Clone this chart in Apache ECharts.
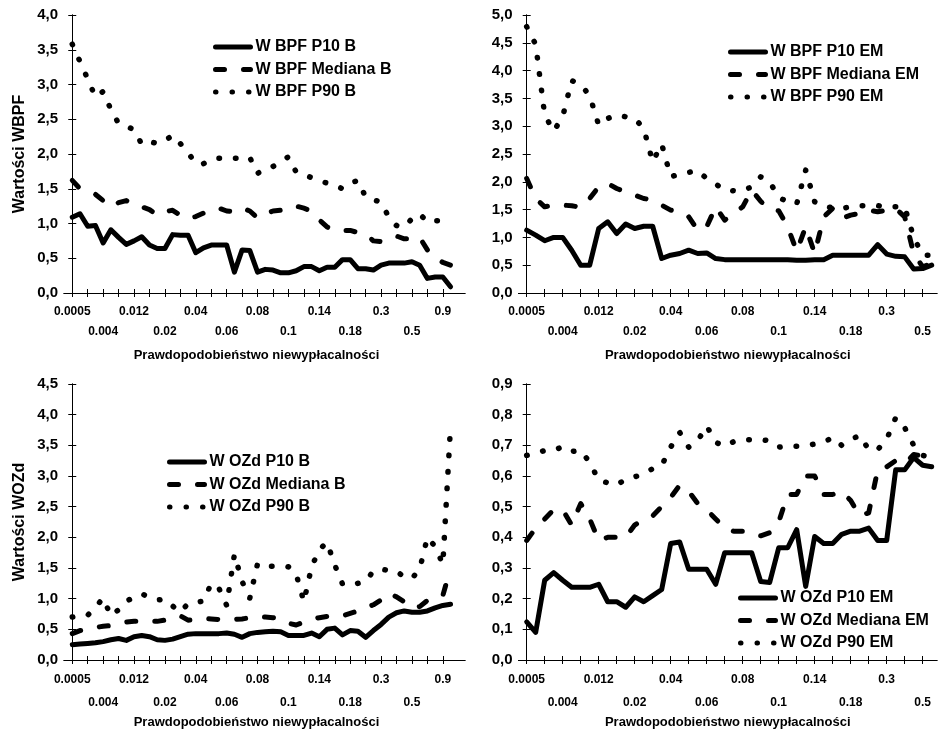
<!DOCTYPE html>
<html>
<head>
<meta charset="utf-8">
<script src="https://cdn.jsdelivr.net/npm/echarts@6/dist/echarts.min.js"></script>
<style>
html,body{margin:0;padding:0;background:#fff;}
#c{width:938px;height:730px;}
</style>
</head>
<body>
<div id="c"></div>
<script>
// ---------- data ----------
const tickLabelsB = ['0.0005','0.004','0.012','0.02','0.04','0.06','0.08','0.1','0.14','0.18','0.3','0.5','0.9'];
const tickLabelsEM = ['0.0005','0.004','0.012','0.02','0.04','0.06','0.08','0.1','0.14','0.18','0.3','0.5'];

// WBPF, B (top-left)
const wbpfP10B = [1.09,1.14,0.96,0.97,0.72,0.91,0.80,0.70,0.75,0.81,0.69,0.64,0.64,0.84,0.83,0.83,0.58,0.65,0.69,0.69,
  0.69,0.30,0.62,0.61,0.30,0.34,0.33,0.29,0.29,0.32,0.38,0.38,0.32,0.37,0.37,0.48,0.48,0.35,0.35,0.33,
  0.40,0.43,0.43,0.43,0.45,0.40,0.21,0.23,0.23,0.09];
const wbpfMedB = [1.62,1.50,1.46,1.42,1.33,1.24,1.30,1.33,1.26,1.24,1.20,1.12,1.17,1.19,1.12,1.07,1.10,1.15,1.20,1.22,
  1.18,1.17,1.22,1.18,1.08,1.14,1.18,1.19,1.20,1.25,1.22,1.18,1.05,0.95,0.90,0.90,0.90,0.87,0.85,0.75,
  0.74,0.79,0.82,0.78,0.78,0.80,0.62,0.52,0.44,0.40];
const wbpfP90B = [3.58,3.33,3.08,2.82,2.90,2.64,2.44,2.40,2.35,2.14,2.18,2.15,2.19,2.27,2.15,2.02,1.86,1.86,1.92,1.94,
  1.94,1.94,1.94,1.95,1.72,1.79,1.82,1.89,1.96,1.74,1.70,1.66,1.62,1.58,1.55,1.50,1.58,1.62,1.38,1.34,
  1.31,1.09,0.97,0.95,1.07,1.14,1.02,1.04,1.04,1.03];

// WBPF, EM (top-right)
const wbpfP10EM = [1.13,1.04,0.94,1.00,1.00,0.77,0.50,0.50,1.16,1.28,1.07,1.24,1.16,1.20,1.20,0.62,0.68,0.71,0.77,0.71,
  0.72,0.62,0.60,0.60,0.60,0.60,0.60,0.60,0.60,0.60,0.59,0.59,0.60,0.60,0.68,0.68,0.68,0.68,0.68,0.87,
  0.70,0.66,0.65,0.43,0.44,0.50];
const wbpfMedEM = [2.06,1.70,1.55,1.58,1.58,1.57,1.54,1.70,1.91,1.97,1.88,1.82,1.76,1.70,1.67,1.58,1.49,1.46,1.37,1.13,
  1.19,1.55,1.31,1.43,1.55,1.85,1.65,1.50,1.48,1.19,0.75,1.19,0.71,1.37,1.52,1.34,1.40,1.43,1.49,1.46,
  1.49,1.52,1.37,0.71,0.47,0.53];
const wbpfP90EM = [4.79,4.47,3.20,2.91,3.17,3.82,3.75,3.55,3.02,3.14,3.20,3.17,3.14,2.96,2.36,2.68,2.09,2.14,2.17,2.20,
  2.06,1.96,1.85,1.84,1.84,1.91,2.09,2.00,1.72,1.64,1.60,2.21,1.64,1.55,1.54,1.52,1.55,1.57,1.57,1.57,
  1.55,1.55,1.55,1.00,0.68,0.68];

// WOZd, B (bottom-left)
const wozdP10B = [0.25,0.26,0.27,0.28,0.30,0.33,0.35,0.32,0.38,0.40,0.38,0.33,0.32,0.34,0.38,0.42,0.43,0.43,0.43,0.43,
  0.44,0.42,0.37,0.43,0.45,0.46,0.47,0.46,0.40,0.40,0.40,0.44,0.38,0.50,0.52,0.41,0.48,0.47,0.37,0.48,
  0.58,0.70,0.77,0.80,0.78,0.78,0.80,0.85,0.89,0.91];
const wozdMedB = [0.43,0.48,0.50,0.53,0.55,0.56,0.59,0.62,0.63,0.63,0.63,0.63,0.65,0.67,0.72,0.65,0.66,0.68,0.67,0.66,
  0.66,0.66,0.67,0.69,0.71,0.70,0.69,0.67,0.60,0.57,0.62,0.67,0.69,0.71,0.71,0.72,0.76,0.80,0.85,0.90,
  0.98,1.09,1.03,0.95,0.85,0.87,0.97,1.00,1.05,1.50];
const wozdP90B = [0.70,0.72,0.73,0.86,1.01,0.72,0.82,0.96,1.02,1.08,1.02,0.98,0.99,0.88,0.78,0.92,0.94,0.96,1.25,1.17,
  0.89,1.72,1.28,1.01,1.57,1.53,1.53,1.53,1.52,1.40,0.95,1.52,1.80,1.92,1.55,1.24,1.22,1.25,1.28,1.45,
  1.48,1.46,1.45,1.35,1.33,1.48,2.00,1.85,1.56,3.82];

// WOZd, EM (bottom-right)
const wozdP10EM = [0.124,0.09,0.26,0.285,0.26,0.237,0.237,0.237,0.247,0.19,0.19,0.172,0.206,0.19,0.21,0.23,0.38,0.385,0.296,0.296,
  0.296,0.247,0.35,0.35,0.35,0.35,0.256,0.253,0.366,0.366,0.425,0.24,0.403,0.38,0.38,0.41,0.42,0.42,0.43,0.39,
  0.39,0.62,0.62,0.66,0.635,0.63];
const wozdMedEM = [0.39,0.43,0.46,0.49,0.49,0.44,0.51,0.46,0.39,0.40,0.40,0.40,0.44,0.46,0.47,0.50,0.53,0.57,0.55,0.51,
  0.49,0.46,0.43,0.42,0.42,0.41,0.405,0.415,0.45,0.54,0.54,0.60,0.60,0.54,0.54,0.55,0.52,0.47,0.48,0.62,
  0.63,0.65,0.64,0.67,0.665,0.66];
const wozdP90EM = [0.667,0.675,0.683,0.683,0.696,0.68,0.683,0.645,0.586,0.578,0.57,0.59,0.597,0.608,0.624,0.634,0.694,0.742,0.694,0.715,
  0.763,0.71,0.697,0.712,0.718,0.718,0.718,0.715,0.694,0.697,0.697,0.70,0.704,0.71,0.726,0.70,0.718,0.733,0.686,0.686,
  0.72,0.79,0.758,0.70,0.667,0.66];

const xTitle = 'Prawdopodobieństwo niewypłacalności';
const panels = [
  {names:['W BPF P10 B','W BPF Mediana B','W BPF P90 B'], data:[wbpfP10B,wbpfMedB,wbpfP90B], labels:tickLabelsB,
   yMax:4, yInt:0.5, yName:'Wartości WBPF'},
  {names:['W BPF P10 EM','W BPF Mediana EM','W BPF P90 EM'], data:[wbpfP10EM,wbpfMedEM,wbpfP90EM], labels:tickLabelsEM,
   yMax:5, yInt:0.5, yName:''},
  {names:['W OZd P10 B','W OZd Mediana B','W OZd P90 B'], data:[wozdP10B,wozdMedB,wozdP90B], labels:tickLabelsB,
   yMax:4.5, yInt:0.5, yName:'Wartości WOZd'},
  {names:['W OZd P10 EM','W OZd Mediana EM','W OZd P90 EM'], data:[wozdP10EM,wozdMedEM,wozdP90EM], labels:tickLabelsEM,
   yMax:0.9, yInt:0.1, yName:''}
];

// ---------- layout ----------
const layout = [
  {left:64, top:15, width:401, height:278, xMin:-1.07, xMax:50.87, lgLeft:213, lgTop:39, nameGap:56, namePad:[0,16,0,0], m1:13, m2:33},
  {left:518.5, top:15, width:418.5, height:278, xMin:-0.91, xMax:45.59, lgLeft:728, lgTop:44, nameGap:56, namePad:[0,0,0,0], m1:13, m2:33},
  {left:64, top:384, width:401, height:279, xMin:-1.07, xMax:50.87, lgLeft:167, lgTop:454, nameGap:56, namePad:[0,16,0,0], m1:14, m2:34},
  {left:518.5, top:384, width:418.5, height:279, xMin:-0.91, xMax:45.59, lgLeft:738, lgTop:590, nameGap:56, namePad:[0,0,0,0], m1:14, m2:34}
];

const FONT = "'Liberation Sans', Arial, sans-serif";
const lineTypes = ['solid', [9, 19], [0.5, 16]];
const lineWidths = [5, 5, 5.5];
const labelStyle = {color:'#000', fontFamily:FONT, fontWeight:'bold', fontSize:12};

const grid = [], xAxis = [], yAxis = [], series = [], legend = [];
panels.forEach((p, k) => {
  const L = layout[k];
  grid.push({left:L.left, top:L.top, width:L.width, height:L.height, show:false});
  const nPts = p.data[0].length;
  const tickVals = [];
  for (let i = 0; i < nPts; i += 2) tickVals.push(i);
  const row1Vals = [], row2Vals = [];
  p.labels.forEach((_, j) => { (j % 2 === 0 ? row1Vals : row2Vals).push(j * 4); });
  const lbls = p.labels;
  const fmt = function(v){ return lbls[Math.round(v/4)] || ''; };
  // bottom x axis (ticks + first row of labels + title)
  xAxis.push({
    type:'value', gridIndex:k, position:'bottom', min:L.xMin, max:L.xMax,
    axisLine:{show:true, lineStyle:{color:'#000', width:1}},
    axisTick:{show:true, inside:true, length:4, lineStyle:{color:'#000', width:1}, customValues:tickVals},
    axisLabel:Object.assign({show:true, customValues:row1Vals, margin:L.m1, hideOverlap:false,
      showMinLabel:true, showMaxLabel:true, formatter:fmt}, labelStyle),
    splitLine:{show:false},
    name:xTitle, nameLocation:'middle', nameGap:L.nameGap,
    nameTextStyle:{color:'#000', fontFamily:FONT, fontWeight:'bold', fontSize:13, padding:L.namePad}
  });
  // top x axis (frame + ticks)
  xAxis.push({
    type:'value', gridIndex:k, position:'top', min:L.xMin, max:L.xMax,
    axisLine:{show:true, lineStyle:{color:'#000', width:1}},
    axisTick:{show:true, inside:true, length:4, lineStyle:{color:'#000', width:1}, customValues:tickVals},
    axisLabel:{show:false}, splitLine:{show:false}
  });
  yAxis.push({
    type:'value', gridIndex:k, position:'left', min:0, max:p.yMax, interval:p.yInt,
    axisLine:{show:true, lineStyle:{color:'#000', width:1}},
    axisTick:{show:true, inside:true, length:4, lineStyle:{color:'#000', width:1}},
    axisLabel:{color:'#000', fontFamily:FONT, fontWeight:'bold', fontSize:15, margin:6,
      formatter:function(v){ return v.toFixed(1).replace('.', ','); }},
    splitLine:{show:false},
    name:p.yName, nameLocation:'middle', nameGap:36,
    nameTextStyle:{color:'#000', fontFamily:FONT, fontWeight:'bold', fontSize:16}
  });
  yAxis.push({
    type:'value', gridIndex:k, position:'right', min:0, max:p.yMax, interval:p.yInt,
    axisLine:{show:true, lineStyle:{color:'#000', width:1}},
    axisTick:{show:true, inside:true, length:4, lineStyle:{color:'#000', width:1}},
    axisLabel:{show:false}, splitLine:{show:false}
  });
  p.names.forEach((nm, s) => {
    series.push({
      type:'line', name:nm, xAxisIndex:2*k, yAxisIndex:2*k,
      data:p.data[s].map((v, i) => [i, v]),
      symbol:'none', showSymbol:false, smooth:false, clip:true,
      lineStyle:{color:'#000', width:lineWidths[s], type:lineTypes[s], cap:'round', join:'round'},
      itemStyle:{color:'#000'}
    });
  });
  legend.push({
    data:p.names, orient:'vertical', left:L.lgLeft, top:L.lgTop,
    itemWidth:35, itemHeight:14, itemGap:6.5, padding:0,
    itemStyle:{opacity:0},
    lineStyle:{width:5, cap:'round'},
    textStyle:{color:'#000', fontFamily:FONT, fontWeight:'bold', fontSize:16, lineHeight:16},
    selectedMode:false
  });
  p._row2 = row2Vals; p._fmt = fmt;
});

// second row of x labels: overlay grids with the same rectangles
panels.forEach((p, k) => {
  const L = layout[k];
  const gi = grid.length;
  grid.push({left:L.left, top:L.top, width:L.width, height:L.height, show:false});
  xAxis.push({
    type:'value', gridIndex:gi, position:'bottom', min:L.xMin, max:L.xMax,
    axisLine:{show:false}, axisTick:{show:false}, splitLine:{show:false},
    axisLabel:Object.assign({show:true, customValues:p._row2, margin:L.m2, hideOverlap:false,
      showMinLabel:true, showMaxLabel:true, formatter:p._fmt}, labelStyle)
  });
  yAxis.push({
    type:'value', gridIndex:gi, min:0, max:1, show:false
  });
});

const chart = echarts.init(document.getElementById('c'), null, {renderer:'canvas'});
chart.setOption({
  backgroundColor:'#fff',
  animation:false,
  grid:grid, xAxis:xAxis, yAxis:yAxis, series:series, legend:legend
});
</script>
</body>
</html>
